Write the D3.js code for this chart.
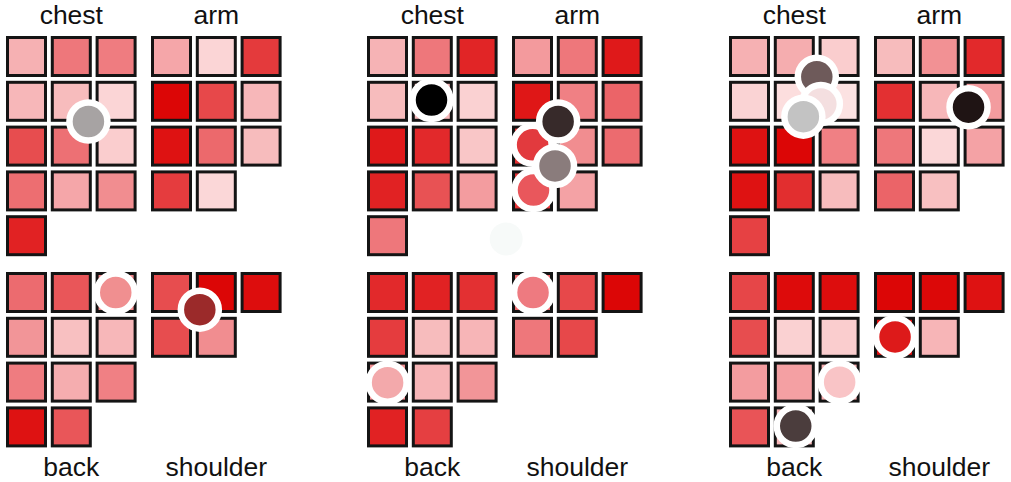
<!DOCTYPE html>
<html>
<head>
<meta charset="utf-8">
<script src="https://cdn.jsdelivr.net/npm/d3@7"></script>
<style>
  html, body { margin: 0; padding: 0; background: #ffffff; }
  svg { display: block; }
  text { font-family: "Liberation Sans", Arial, Helvetica, sans-serif; }
</style>
</head>
<body>
<svg id="chart" width="1011" height="482"></svg>
<script>
// ---------- data ----------
const panels = ["p1", "p2", "p3"];
const groups = ["chest", "arm", "back", "shoulder"];

// cell intensity values (0 = lightest pink, 1 = deepest red), row-major, 3 columns
const p1_chest    = [0.25, 0.52, 0.50, 0.22, 0.20, 0.08, 0.70, 0.55, 0.12, 0.56, 0.30, 0.42, 0.88];
const p1_arm      = [0.30, 0.08, 0.78, 1.00, 0.72, 0.22, 0.95, 0.58, 0.20, 0.77, 0.07];
const p1_back     = [0.57, 0.66, 0.45, 0.38, 0.18, 0.22, 0.50, 0.27, 0.48, 0.95, 0.66];
const p1_shoulder = [0.70, 1.00, 0.97, 0.70, 0.42];

const p2_chest    = [0.24, 0.52, 0.87, 0.20, 0.22, 0.10, 0.92, 0.85, 0.15, 0.88, 0.68, 0.35, 0.52];
const p2_arm      = [0.36, 0.52, 0.92, 0.93, 0.48, 0.60, 0.82, 0.42, 0.57, 0.80, 0.32];
const p2_back     = [0.85, 0.88, 0.82, 0.77, 0.20, 0.23, 0.40, 0.23, 0.38, 0.88, 0.76];
const p2_shoulder = [0.58, 0.72, 1.00, 0.52, 0.72];

const p3_chest    = [0.25, 0.27, 0.12, 0.09, 0.04, 0.02, 0.95, 1.00, 0.48, 0.95, 0.83, 0.20, 0.75];
const p3_arm      = [0.20, 0.40, 0.85, 0.82, 0.22, 0.35, 0.52, 0.07, 0.32, 0.60, 0.18];
const p3_back     = [0.73, 0.98, 0.97, 0.70, 0.10, 0.12, 0.35, 0.33, 0.25, 0.67, 0.22];
const p3_shoulder = [1.00, 0.99, 0.95, 0.96, 0.23];

const cellValues = {
  p1: { chest: p1_chest, arm: p1_arm, back: p1_back, shoulder: p1_shoulder },
  p2: { chest: p2_chest, arm: p2_arm, back: p2_back, shoulder: p2_shoulder },
  p3: { chest: p3_chest, arm: p3_arm, back: p3_back, shoulder: p3_shoulder }
};

// markers: panel, group, column position, row position (in cell units), fill colour
const markerPanel = ["p1", "p1", "p1", "p2", "p2", "p2", "p2", "p2", "p2", "p2", "p2", "p3", "p3", "p3", "p3", "p3", "p3", "p3"];
const markerGroup = ["chest", "back", "shoulder", "chest", "arm", "arm", "arm", "arm", "arm", "back", "shoulder", "chest", "chest", "chest", "arm", "back", "back", "shoulder"];
const markerCol   = [1.84, 2.45, 1.09, 1.44, -0.13, 0.46, 0.48, 1.03, 0.96, 0.46, 0.47, 1.96, 2.05, 1.66, 2.11, 2.47, 1.49, 0.47];
const markerRow   = [1.91, 0.46, 0.84, 1.43, 4.53, 2.43, 3.44, 1.91, 2.90, 2.47, 0.46, 0.91, 1.52, 1.80, 1.59, 2.46, 3.44, 1.45];
const markerColor = ["#a7a3a3", "#f08f90", "#9b2a2a", "#000000", "#f7faf9", "#e23a3e", "#e9575c", "#372a2a", "#8a7c7c", "#f3a9ab", "#ee7a80", "#6e5a5a", "#f4dfe0", "#c3c3c3", "#1f1414", "#f9c4c6", "#4b3d3d", "#dd1a1a"];

// ---------- layout ----------
const pitch = 44.8, cellOuter = 41, strokeW = 3;
const panelX = { p1: 6, p2: 367, p3: 729 };
const groupDX = { chest: 0, arm: 145, back: 0, shoulder: 145 };
const groupY = { chest: 36, arm: 36, back: 272, shoulder: 272 };
const labelTop = { chest: true, arm: true, back: false, shoulder: false };

const color = d3.scaleLinear().domain([0, 0.5, 1]).range(["#fde6e6", "#ef7c80", "#dc0606"]).interpolate(d3.interpolateRgb);

const svg = d3.select("#chart");

panels.forEach(p => {
  groups.forEach(g => {
    const gx = panelX[p] + groupDX[g];
    const gy = groupY[g];
    const x = d3.scaleLinear().domain([0, 3]).range([gx, gx + 3 * pitch]);
    const y = d3.scaleLinear().domain([0, 5]).range([gy, gy + 5 * pitch]);
    const vals = cellValues[p][g];
    const G = svg.append("g").attr("class", p + "-" + g);

    G.selectAll("rect")
      .data(vals)
      .join("rect")
      .attr("x", (d, i) => x(i % 3) + strokeW / 2)
      .attr("y", (d, i) => y(Math.floor(i / 3)) + strokeW / 2)
      .attr("width", cellOuter - strokeW)
      .attr("height", cellOuter - strokeW)
      .attr("fill", d => color(d))
      .attr("stroke", "#141414")
      .attr("stroke-width", strokeW);

    const cx = x(1.5) - (pitch - cellOuter) / 2;
    G.append("text")
      .attr("x", cx)
      .attr("y", labelTop[g] ? 24 : 476)
      .attr("text-anchor", "middle")
      .attr("font-size", 26.5)
      .attr("fill", "#111")
      .text(g);
  });
});

// markers
const markers = markerPanel.map((p, i) => ({
  p, g: markerGroup[i], c: markerCol[i], r: markerRow[i], fill: markerColor[i]
}));

markers.forEach(m => {
  const gx = panelX[m.p] + groupDX[m.g];
  const gy = groupY[m.g];
  const x = d3.scaleLinear().domain([0, 3]).range([gx, gx + 3 * pitch]);
  const y = d3.scaleLinear().domain([0, 5]).range([gy, gy + 5 * pitch]);
  const faint = m.fill === "#f7faf9";
  svg.append("circle")
    .attr("cx", x(m.c))
    .attr("cy", y(m.r))
    .attr("r", faint ? 16.5 : 19)
    .attr("fill", m.fill)
    .attr("stroke", faint ? "none" : "#ffffff")
    .attr("stroke-width", 6.5);
});
</script>
</body>
</html>
